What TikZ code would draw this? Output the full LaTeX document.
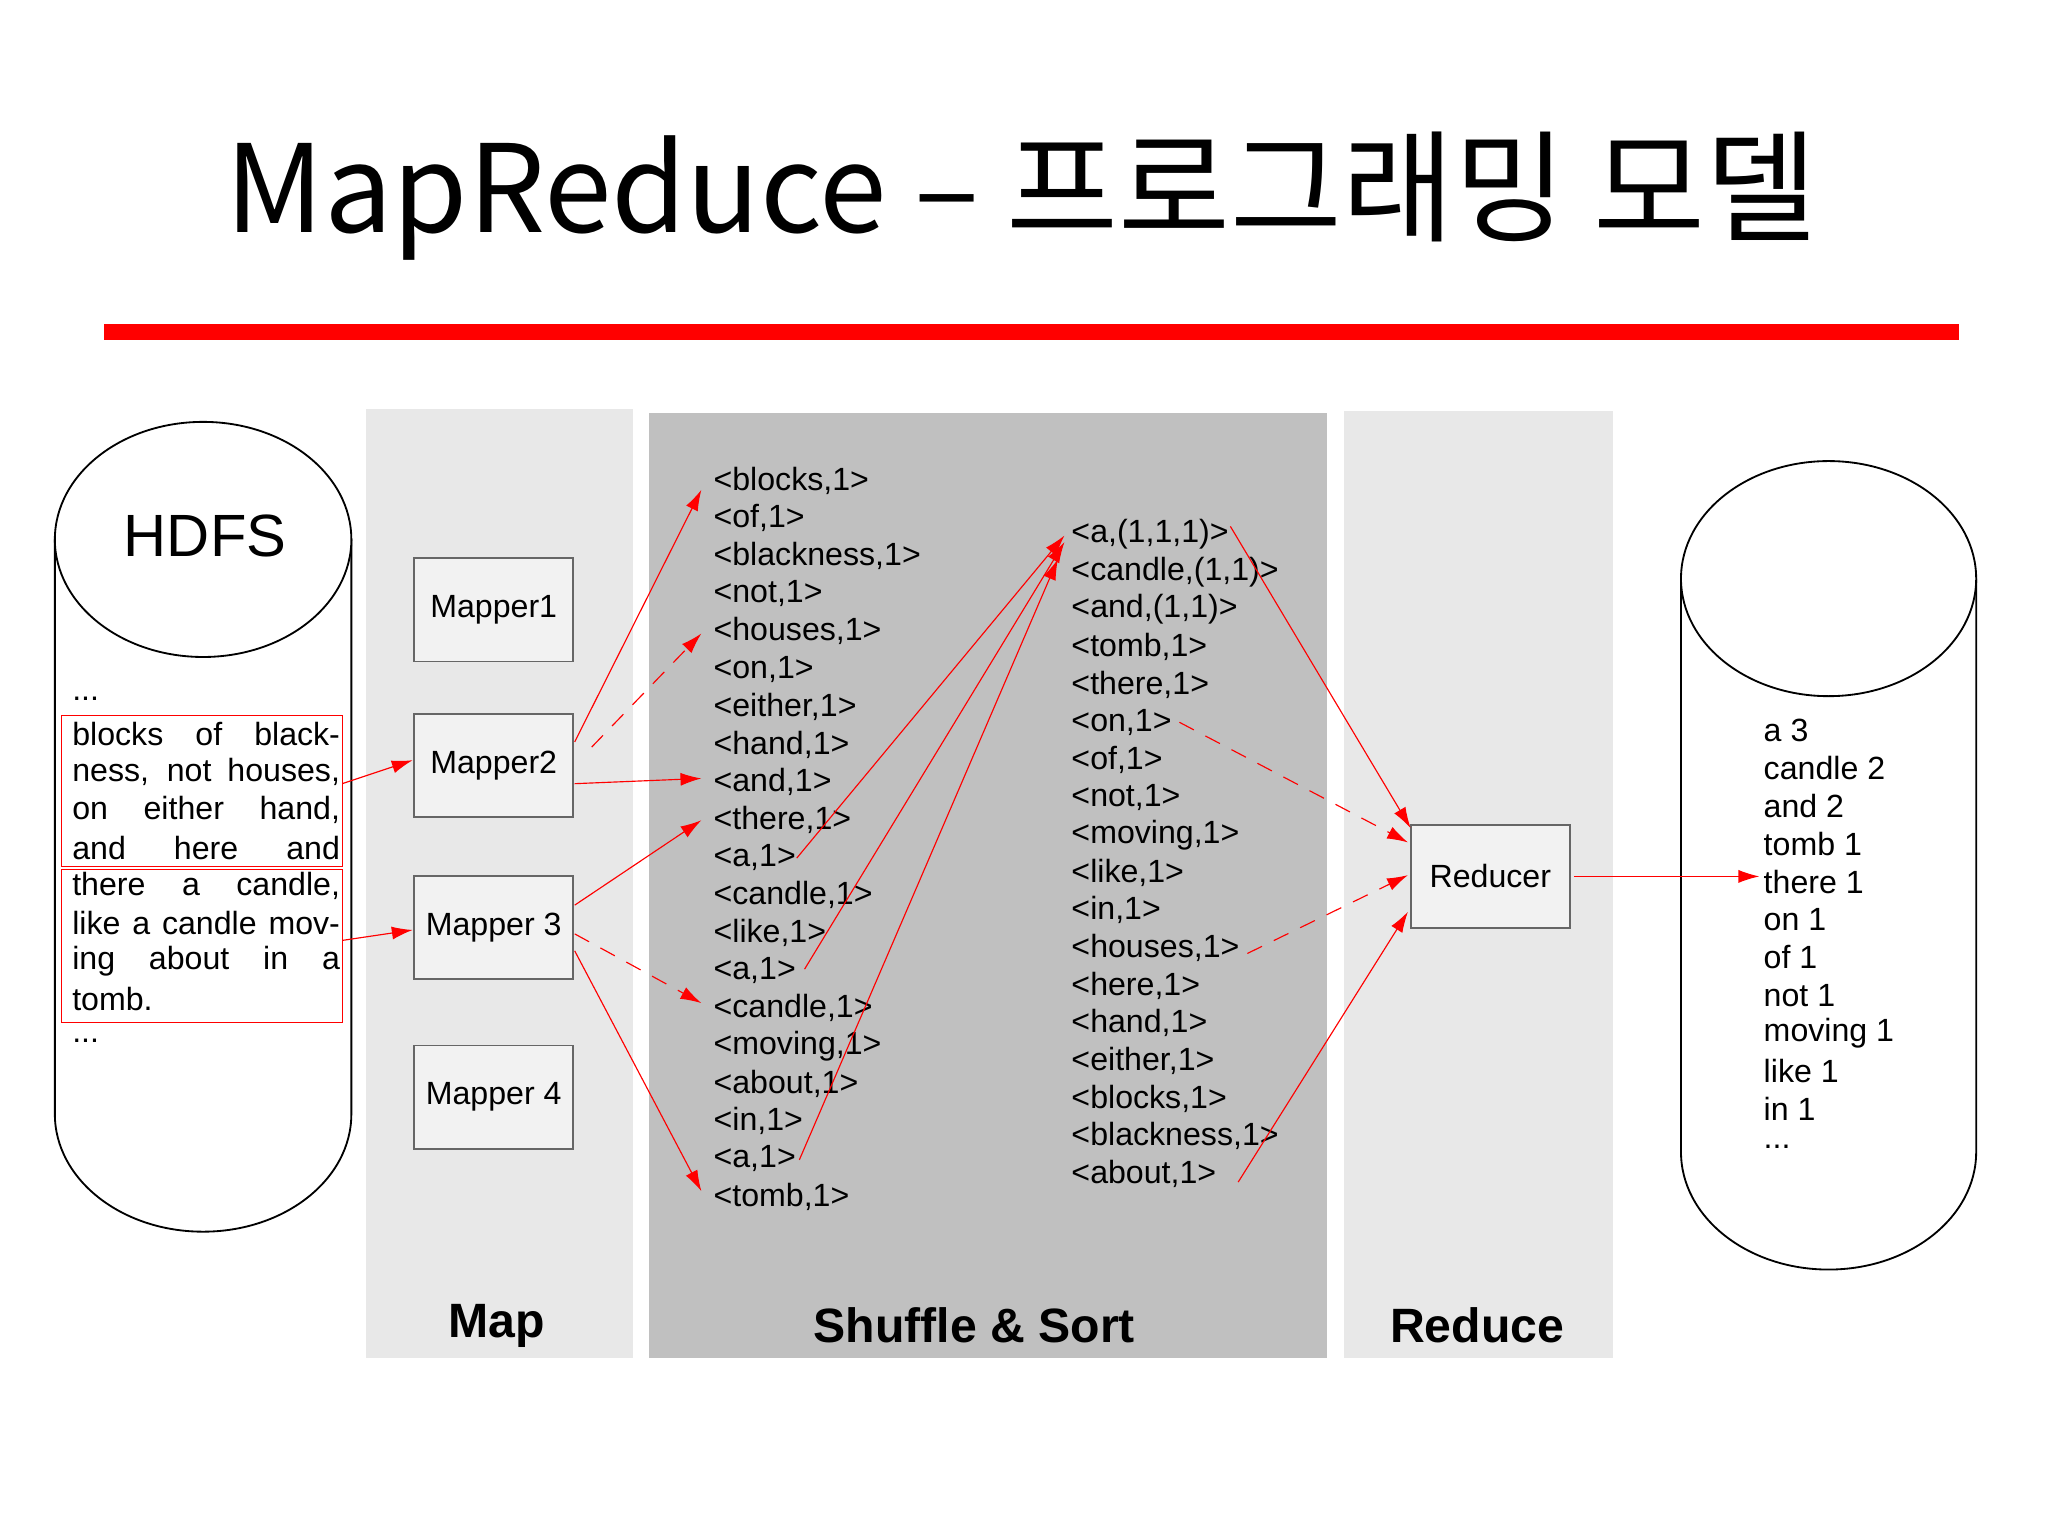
\documentclass[tikz,border=0pt]{standalone}
\usepackage{fontspec}
\setmainfont{Liberation Sans}
\newfontfamily\kr{Noto Sans CJK KR}
\usetikzlibrary{arrows.meta}
\definecolor{lpanel}{HTML}{E8E8E8}
\definecolor{dpanel}{HTML}{C0C0C0}
\definecolor{rline}{HTML}{FF0000}
\tikzset{
  lbl/.style={font=\fontsize{14}{16}\selectfont, anchor=west, inner sep=0pt},
  mbox/.style={draw=gray!80!black, fill=gray!10, minimum width=2.44cm, minimum height=1.58cm, font=\fontsize{14}{16}\selectfont, line width=0.8pt},
  ra/.style={draw=rline, line width=0.5pt, -{Latex[length=0.32cm,width=0.2cm]}},
  rd/.style={ra, dash pattern=on 0.25cm off 0.2cm},
  plabel/.style={font=\bfseries\fontsize{21}{24}\selectfont},
  jl/.style={font=\fontsize{14}{16}\selectfont, anchor=west, inner sep=0pt}
}
\newcommand{\jline}[1]{\makebox[4.1cm][s]{#1}}
\begin{document}
\begin{tikzpicture}[x=0.02cm,y=-0.02cm]
\useasboundingbox (0,0) rectangle (1568,1176);
\fill[white] (0,0) rectangle (1568,1176);
% title
\node (title) at (782,150) {\kr\fontsize{53}{60}\selectfont MapReduce – 프로그래밍 모델};
\fill[rline] (80,248) rectangle (1500,260);
% panels
\fill[lpanel] (280,313) rectangle (485,1040);
\fill[dpanel] (497,316) rectangle (1016,1040);
\fill[lpanel] (1029,315) rectangle (1235,1040);
\node[plabel] (pmap) at (380,1015) {Map};
\node[plabel] (pss) at (746,1015) {Shuffle \& Sort};
\node[plabel] (pred) at (1131,1015) {Reduce};
% HDFS cylinder
\draw[line width=0.8pt] (42,413) -- (42,853) arc[start angle=180,end angle=0,x radius=113.5,y radius=90] -- (269,413);
\draw[line width=0.8pt,fill=white] (155.5,413) ellipse[x radius=113.5,y radius=90];
\node[font=\fontsize{26}{30}\selectfont] (hdfs) at (157,410) {HDFS};
\node[jl] (d1) at (55,535) {...};
\draw[rline] (47,548) rectangle (262,663);
\draw[rline] (47,666) rectangle (262,783);
\coordinate (b1) at (262,600);
\coordinate (b2) at (262,720);
\node[jl] (h0) at (55,562) {\jline{blocks of black-}};
\node[jl] (h1) at (55,591) {\jline{ness, not houses,}};
\node[jl] (h2) at (55,620) {\jline{on either hand,}};
\node[jl] (h3) at (55,649) {\jline{and here and}};
\node[jl] (h4) at (55,678) {\jline{there a candle,}};
\node[jl] (h5) at (55,707) {\jline{like a candle mov-}};
\node[jl] (h6) at (55,736) {\jline{ing about in a}};
\node[jl] (h7) at (55,765) {tomb.};
\node[jl] (d2) at (55,797) {...};
% mappers
\node[mbox] (m1) at (378,467) {Mapper1};
\node[mbox] (m2) at (378,586) {Mapper2};
\node[mbox] (m3) at (378,710) {Mapper 3};
\node[mbox] (m4) at (378,840) {Mapper 4};
% col1
\foreach \t [count=\i from 0] in {blocks,of,blackness,not,houses,on,either,hand,and,there,a,candle,like,a,candle,moving,about,in,a,tomb}
  \node[lbl] (c\i) at (546,368+28.85*\i) {<\t,1>};
% col2
\foreach \t [count=\i from 0] in {{a,(1,1,1)},{candle,(1,1)},{and,(1,1)},{tomb,1},{there,1},{on,1},{of,1},{not,1},{moving,1},{like,1},{in,1},{houses,1},{here,1},{hand,1},{either,1},{blocks,1},{blackness,1},{about,1}}
  \node[lbl] (e\i) at (820,409+28.8*\i) {<\t>};
% reducer
\node[mbox] (red) at (1141,671) {Reducer};
% output cylinder
\draw[line width=0.8pt] (1287,443) -- (1287,882) arc[start angle=180,end angle=0,x radius=113,y radius=90] -- (1513,443);
\draw[line width=0.8pt,fill=white] (1400,443) ellipse[x radius=113,y radius=90];
\foreach \t [count=\i from 0] in {a 3,candle 2,and 2,tomb 1,there 1,on 1,of 1,not 1,moving 1,like 1,in 1}
  \node[jl] (o\i) at (1350,559+29*\i) {\t};
\node[jl] (o11) at (1350,878) {...};
% coordinates
\coordinate (m2a) at (440,568); \coordinate (m2b) at (453,572); \coordinate (m2c) at (440,600);
\coordinate (m3a) at (440,693); \coordinate (m3b) at (440,715); \coordinate (m3c) at (440,728);
\coordinate (t1) at (537,375); \coordinate (t2) at (537,485); \coordinate (t3) at (537,596);
\coordinate (t4) at (537,628); \coordinate (t5) at (537,768); \coordinate (t6) at (537,912);
\coordinate (s1) at (610,657); \coordinate (s2) at (616,742); \coordinate (s3) at (612,888);
\coordinate (u1) at (815,410); \coordinate (u2) at (815,415); \coordinate (u3) at (810,428);
\coordinate (r1) at (942,403); \coordinate (r2) at (903,553); \coordinate (r3) at (955,730); \coordinate (r4) at (948,905);
\coordinate (q1) at (1080,634); \coordinate (q2) at (1078,645); \coordinate (q3) at (1078,670); \coordinate (q4) at (1078,698);
\coordinate (rout) at (1205,671); \coordinate (oin) at (1347,671);
\coordinate (m2l) at (316,582); \coordinate (m3l) at (316,712);
% arrows
\draw[ra] (b1) -- (m2l);
\draw[ra] (b2) -- (m3l);
\draw[ra] (m2a) -- (t1);
\draw[rd] (m2b) -- (t2);
\draw[ra] (m2c) -- (t3);
\draw[ra] (m3a) -- (t4);
\draw[rd] (m3b) -- (t5);
\draw[ra] (m3c) -- (t6);
\draw[ra] (s1) -- (u1);
\draw[ra] (s2) -- (u2);
\draw[ra] (s3) -- (u3);
\draw[ra] (r1) -- (q1);
\draw[rd] (r2) -- (q2);
\draw[rd] (r3) -- (q3);
\draw[ra] (r4) -- (q4);
\draw[ra] (rout) -- (oin);
\end{tikzpicture}
\end{document}
